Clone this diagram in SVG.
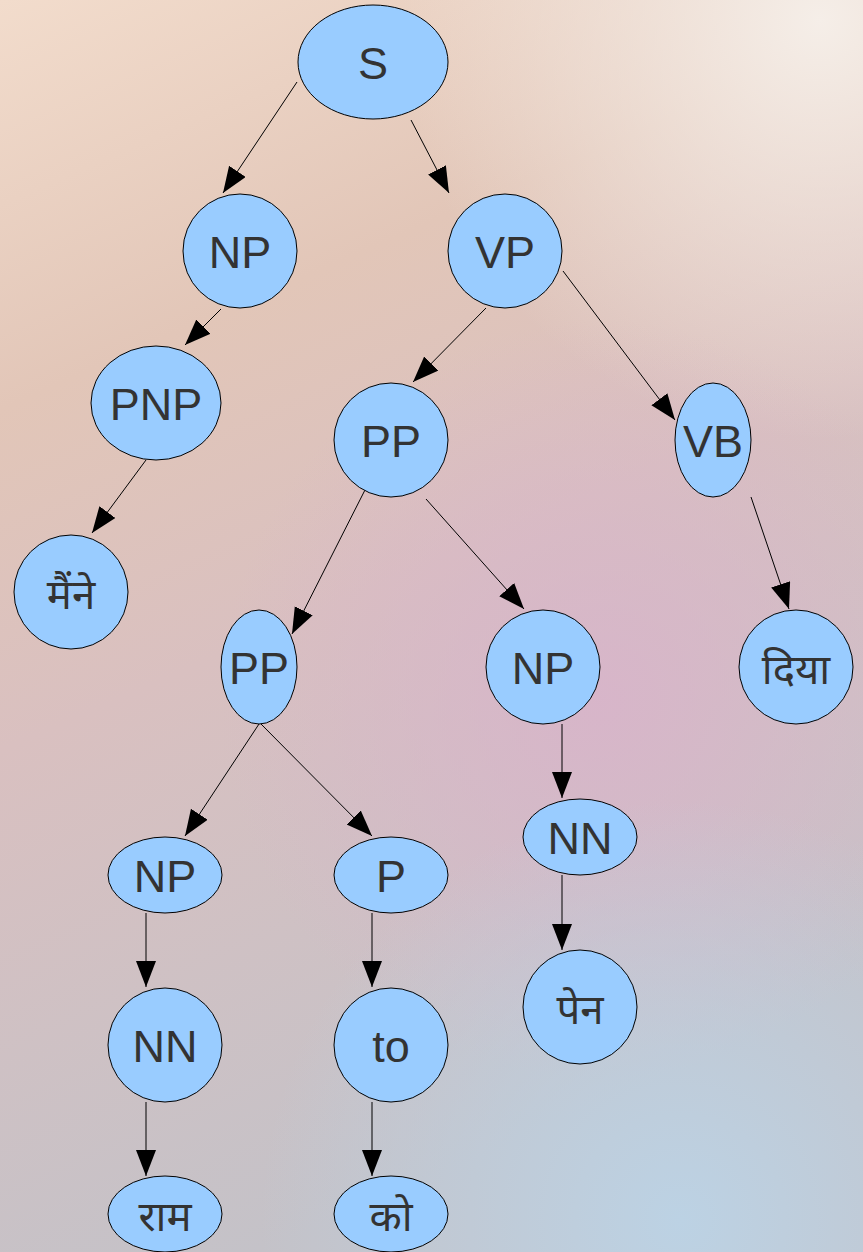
<svg xmlns="http://www.w3.org/2000/svg" width="863" height="1252" viewBox="0 0 863 1252">
<defs>
<linearGradient id="bg" x1="0" y1="0" x2="0.3" y2="1">
<stop offset="0" stop-color="#f2dccc"/>
<stop offset="0.3" stop-color="#e2c6b8"/>
<stop offset="0.55" stop-color="#d9c0c0"/>
<stop offset="1" stop-color="#c4c2c8"/>
</linearGradient>
<radialGradient id="tr" cx="820" cy="20" r="420" gradientUnits="userSpaceOnUse">
<stop offset="0" stop-color="#f5eee8" stop-opacity="1"/>
<stop offset="1" stop-color="#f5eee8" stop-opacity="0"/>
</radialGradient>
<radialGradient id="pink" cx="600" cy="700" r="380" gradientUnits="userSpaceOnUse">
<stop offset="0" stop-color="#d8b4ca" stop-opacity="0.9"/>
<stop offset="1" stop-color="#d8b4ca" stop-opacity="0"/>
</radialGradient>
<radialGradient id="blue" cx="680" cy="1220" r="420" gradientUnits="userSpaceOnUse">
<stop offset="0" stop-color="#bcd2e4" stop-opacity="1"/>
<stop offset="1" stop-color="#bcd2e4" stop-opacity="0"/>
</radialGradient>
<marker id="ah" markerUnits="userSpaceOnUse" markerWidth="30" markerHeight="24" refX="26" refY="10" orient="auto">
<polygon points="0,0 26,10 0,20" fill="#000"/>
</marker>
<style>
.n ellipse{fill:#99ccff;stroke:#000;stroke-width:1}
.n text{font-family:"Liberation Sans","Noto Sans",sans-serif;font-size:45px;fill:#333;text-anchor:middle;dominant-baseline:central}
.n text.d{font-size:42px}
#edges line{stroke:#000;stroke-width:1;marker-end:url(#ah)}
</style>
</defs>
<rect width="863" height="1252" fill="url(#bg)"/>
<rect width="863" height="1252" fill="url(#tr)"/>
<rect width="863" height="1252" fill="url(#pink)"/>
<rect width="863" height="1252" fill="url(#blue)"/>
<g id="edges">
<line x1="297" y1="82" x2="223" y2="193"/>
<line x1="411" y1="120" x2="449" y2="193"/>
<line x1="221" y1="309" x2="185" y2="345"/>
<line x1="486" y1="308" x2="413" y2="382"/>
<line x1="563" y1="271" x2="675" y2="420"/>
<line x1="146" y1="460" x2="92" y2="533"/>
<line x1="367" y1="486" x2="292" y2="634"/>
<line x1="426" y1="499" x2="524" y2="609"/>
<line x1="751" y1="497" x2="789" y2="609"/>
<line x1="259" y1="724" x2="185" y2="836"/>
<line x1="261" y1="724" x2="372" y2="836"/>
<line x1="562" y1="724" x2="562" y2="798"/>
<line x1="146" y1="913" x2="146" y2="987"/>
<line x1="372" y1="913" x2="372" y2="987"/>
<line x1="562" y1="875" x2="562" y2="950"/>
<line x1="146" y1="1102" x2="146" y2="1176"/>
<line x1="372" y1="1102" x2="372" y2="1176"/>
</g>
<g id="S" class="n"><ellipse cx="373" cy="62" rx="75" ry="57"/><text x="373" y="63">S</text></g>
<g id="NP1" class="n"><ellipse cx="240" cy="251" rx="57" ry="57"/><text x="240" y="252">NP</text></g>
<g id="VP" class="n"><ellipse cx="505" cy="251" rx="57" ry="57"/><text x="505" y="252">VP</text></g>
<g id="PNP" class="n"><ellipse cx="156" cy="403" rx="65" ry="57"/><text x="156" y="404">PNP</text></g>
<g id="PP1" class="n"><ellipse cx="391" cy="440" rx="57" ry="57"/><text x="391" y="441">PP</text></g>
<g id="VB" class="n"><ellipse cx="713" cy="440" rx="38" ry="57"/><text x="713" y="441">VB</text></g>
<g id="maine" class="n"><ellipse cx="71" cy="592" rx="57" ry="57"/><text class="d" x="71" y="594">मैंने</text></g>
<g id="PP2" class="n"><ellipse cx="259" cy="667" rx="38" ry="57"/><text x="259" y="668">PP</text></g>
<g id="NP3" class="n"><ellipse cx="543" cy="667" rx="57" ry="57"/><text x="543" y="668">NP</text></g>
<g id="diya" class="n"><ellipse cx="796" cy="667" rx="57" ry="57"/><text class="d" x="796" y="669">दिया</text></g>
<g id="NP4" class="n"><ellipse cx="165" cy="875" rx="57" ry="38"/><text x="165" y="876">NP</text></g>
<g id="P" class="n"><ellipse cx="391" cy="875" rx="57" ry="38"/><text x="391" y="876">P</text></g>
<g id="NN1" class="n"><ellipse cx="580" cy="837" rx="57" ry="38"/><text x="580" y="838">NN</text></g>
<g id="NN2" class="n"><ellipse cx="165" cy="1045" rx="57" ry="57"/><text x="165" y="1046">NN</text></g>
<g id="to" class="n"><ellipse cx="391" cy="1045" rx="57" ry="57"/><text x="391" y="1046">to</text></g>
<g id="pen" class="n"><ellipse cx="580" cy="1007" rx="57" ry="57"/><text class="d" x="580" y="1009">पेन</text></g>
<g id="ram" class="n"><ellipse cx="165" cy="1214" rx="57" ry="38"/><text class="d" x="165" y="1216">राम</text></g>
<g id="ko" class="n"><ellipse cx="391" cy="1214" rx="57" ry="38"/><text class="d" x="391" y="1216">को</text></g>
</svg>
